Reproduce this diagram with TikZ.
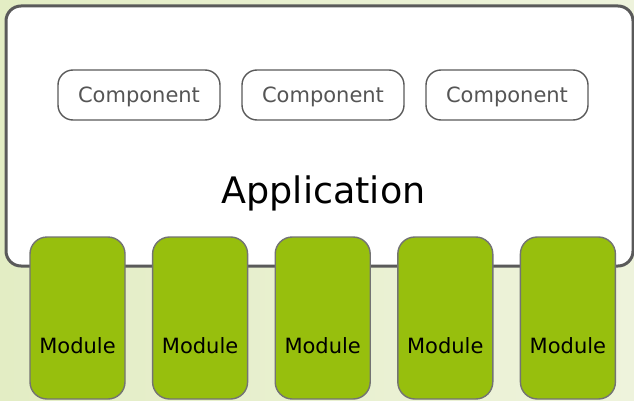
\documentclass[tikz,border=0pt]{standalone}
\usepackage{fontspec}
\setmainfont{DejaVu Sans}
\usepackage{xcolor}
\usepackage{tikz}
\definecolor{bgleft}{HTML}{E3EDC4}
\definecolor{bgright}{HTML}{EEF3DC}
\definecolor{modgreen}{HTML}{97BF0D}
\definecolor{edgegray}{HTML}{5A5A5A}
\definecolor{compgray}{HTML}{555555}
\tikzset{
  appbox/.style={draw=edgegray,line width=3pt,fill=white,rounded corners=15pt},
  compbox/.style={draw=edgegray,line width=1.4pt,fill=white,rounded corners=15pt,
    minimum width=162pt,minimum height=50pt,inner sep=0pt,text height=16pt,text depth=0.5pt,
    text=compgray,font=\fontsize{21}{25}\selectfont},
  modbox/.style={draw=edgegray!85,line width=1.4pt,fill=modgreen,rounded corners=17pt,
    minimum width=95pt,minimum height=162pt,inner sep=0pt},
  modtext/.style={inner sep=0pt,font=\fontsize{21}{25}\selectfont}
}

\begin{document}
\begin{tikzpicture}[x=1pt,y=1pt]
    \useasboundingbox (0,0) rectangle (634,400);
    \shade[left color=bgleft,right color=bgright] (0,0) rectangle (634,400);
    \begin{scope}
      \clip (0,0) rectangle (634,400);
      % application frame runs off the right edge
      \node[appbox,minimum width=627pt,minimum height=260pt,inner sep=0pt] (app) at (319.5,264) {};
    \end{scope}
    \node[inner sep=0pt,font=\fontsize{36.5}{42}\selectfont] (apptitle) at (323.5,207) {Application};
    \foreach \i/\x in {1/139,2/323,3/507} {
      \node[compbox] (comp\i) at (\x,305) {Component};
    }
    \foreach \i in {1,...,5} {
      \pgfmathsetmacro{\x}{77.5 + (\i-1) * 122.6}
      \node[modbox] (mod\i) at (\x,82) {};
      \node[modtext] (modlbl\i) at (\x,54) {Module};
    }
  \end{tikzpicture}
\end{document}
